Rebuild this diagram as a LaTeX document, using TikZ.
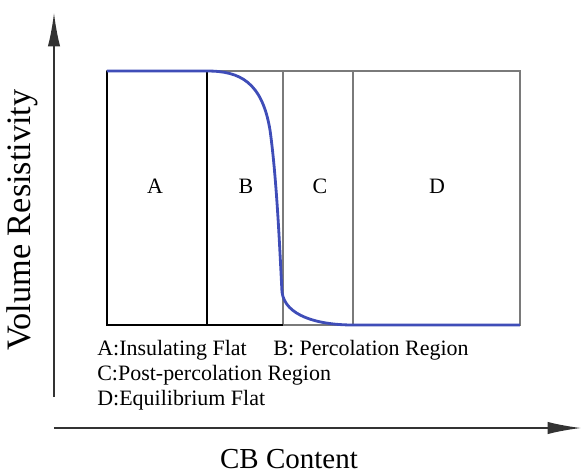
\documentclass[tikz,border=0pt]{standalone}
\usepackage{fontspec}
\setmainfont{Liberation Serif}
\usetikzlibrary{arrows.meta}
\definecolor{curveblue}{HTML}{3F4DB8}
\definecolor{boxgray}{HTML}{7A7A7A}

\begin{document}
\begin{tikzpicture}[x=0.02cm, y=-0.02cm,
  every node/.style={font=\rmfamily},
  axis/.style={line width=0.8pt, black!80, -{Latex[length=19pt,width=7pt]}},
  region/.style={font=\rmfamily\fontsize{12.5}{14}\selectfont},
  legend/.style={anchor=base west, inner sep=0pt, font=\rmfamily\fontsize{12.5}{14}\selectfont}]
        \useasboundingbox (0,0) rectangle (583,474);
        % Axes
        \coordinate (O) at (54,428);
        \coordinate (ytop) at (54,13);
        \coordinate (xend) at (581,428);
        \draw[axis] (O |- 0,397) -- (ytop);
        \draw[axis] (O) -- (xend);
        \node[rotate=90, font=\rmfamily\fontsize{19.5}{21}\selectfont] (ylab) at (22,220) {Volume Resistivity};
        \node[font=\rmfamily\fontsize{16.5}{19}\selectfont] (xlab) at (289,459) {CB Content};
        % Regions
        \coordinate (tl) at (107,71);
        \coordinate (br) at (520,325);
        \draw[boxgray, line width=0.6pt] (tl) rectangle (br);
        \draw[boxgray, line width=0.6pt] (283,71) -- (283,325);
        \draw[boxgray, line width=0.6pt] (353,71) -- (353,325);
        \draw[black, line width=0.9pt] (107,71) -- (107,325) -- (283,325);
        \draw[black, line width=0.9pt] (207,71) -- (207,325);
        \node[region] (A) at (155,186) {A};
        \node[region] (B) at (246,186) {B};
        \node[region] (C) at (320,186) {C};
        \node[region] (D) at (437,186) {D};
        % Resistivity curve
        \draw[curveblue, line width=1.6pt] (tl) -- (207,71)
          .. controls (240,71) and (262,82) .. (270,130)
          .. controls (277,180) and (280,255) .. (282,292)
          .. controls (285,316) and (318,325) .. (353,325) -- (br);
        % Legend
        \node[legend] (legA) at (97,355) {A:Insulating Flat};
        \node[legend] (legB) at (273,355) {B: Percolation Region};
        \node[legend] (legC) at (97,380) {C:Post-percolation Region};
        \node[legend] (legD) at (97,405) {D:Equilibrium Flat};
      \end{tikzpicture}
\end{document}
